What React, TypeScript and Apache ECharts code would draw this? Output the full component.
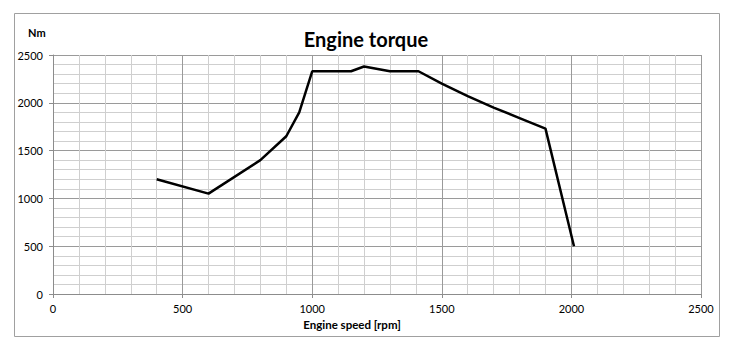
import React, { useEffect, useRef } from "react";
import * as echarts from "echarts";

const speeds = [400, 600, 800, 900, 950, 1000, 1150, 1200, 1300, 1410, 1500, 1600, 1700, 1800, 1900, 2010];
const torques = [1200, 1050, 1400, 1650, 1900, 2330, 2330, 2380, 2330, 2330, 2200, 2070, 1950, 1840, 1730, 500];
const titleText = "Engine torque";
const xName = "Engine speed [rpm]";
const yName = "Nm";

export default function App() {
  const ref = useRef<HTMLDivElement>(null);
  useEffect(() => {
    if (!ref.current) return;
    const chart = echarts.init(ref.current, null, { renderer: "svg" });
    const font = "Lato, 'Open Sans', sans-serif";
    const axisCommon = {
      type: "value" as const,
      min: 0,
      max: 2500,
      interval: 500,
      axisLine: { show: true, lineStyle: { color: "#8c8c8c", width: 1 } },
      axisTick: { show: true, length: 4, lineStyle: { color: "#8c8c8c" } },
      minorTick: { show: false, splitNumber: 5 },
      splitLine: { show: true, lineStyle: { color: "#9a9a9a", width: 1 } },
      minorSplitLine: { show: true, lineStyle: { color: "#cfcfcf", width: 1 } },
      axisLabel: {
        color: "#000",
        fontSize: 11,
        fontFamily: font,
        formatter: (v: number) => String(v),
      },
    };
    chart.setOption({
      animation: false,
      backgroundColor: "#fff",
      title: {
        text: titleText,
        left: "center",
        top: 24,
        textStyle: { fontSize: 20, fontWeight: "bold", color: "#000", fontFamily: font },
      },
      grid: { left: 53, right: 31, top: 55, bottom: 58 },
      xAxis: {
        ...axisCommon,
        axisLabel: { ...axisCommon.axisLabel, margin: 9 },
      },
      yAxis: {
        ...axisCommon,
        axisLabel: { ...axisCommon.axisLabel, margin: 10 },
      },
      graphic: [
        {
          type: "rect",
          shape: { x: 14.5, y: 13.5, width: 705, height: 323 },
          style: { fill: "none", stroke: "#a0a0a0", lineWidth: 1 },
          silent: true,
        },
        {
          type: "text",
          left: 28,
          top: 27,
          style: { text: yName, fontSize: 11, fontWeight: "bold", fill: "#000", fontFamily: font },
        },
        {
          type: "text",
          x: 352,
          y: 324,
          style: {
            text: xName,
            fontSize: 11.5,
            fontWeight: "bold",
            fill: "#000",
            fontFamily: font,
            align: "center",
            verticalAlign: "middle",
          },
        },
      ],
      series: [
        {
          type: "line",
          data: speeds.map((s, i) => [s, torques[i]]),
          showSymbol: false,
          lineStyle: { color: "#000", width: 2.5 },
          itemStyle: { color: "#000" },
        },
      ],
    });
    return () => chart.dispose();
  }, []);
  return (
    <div
      ref={ref}
      style={{ position: "fixed", left: 0, top: 0, width: 732, height: 352 }}
    />
  );
}
